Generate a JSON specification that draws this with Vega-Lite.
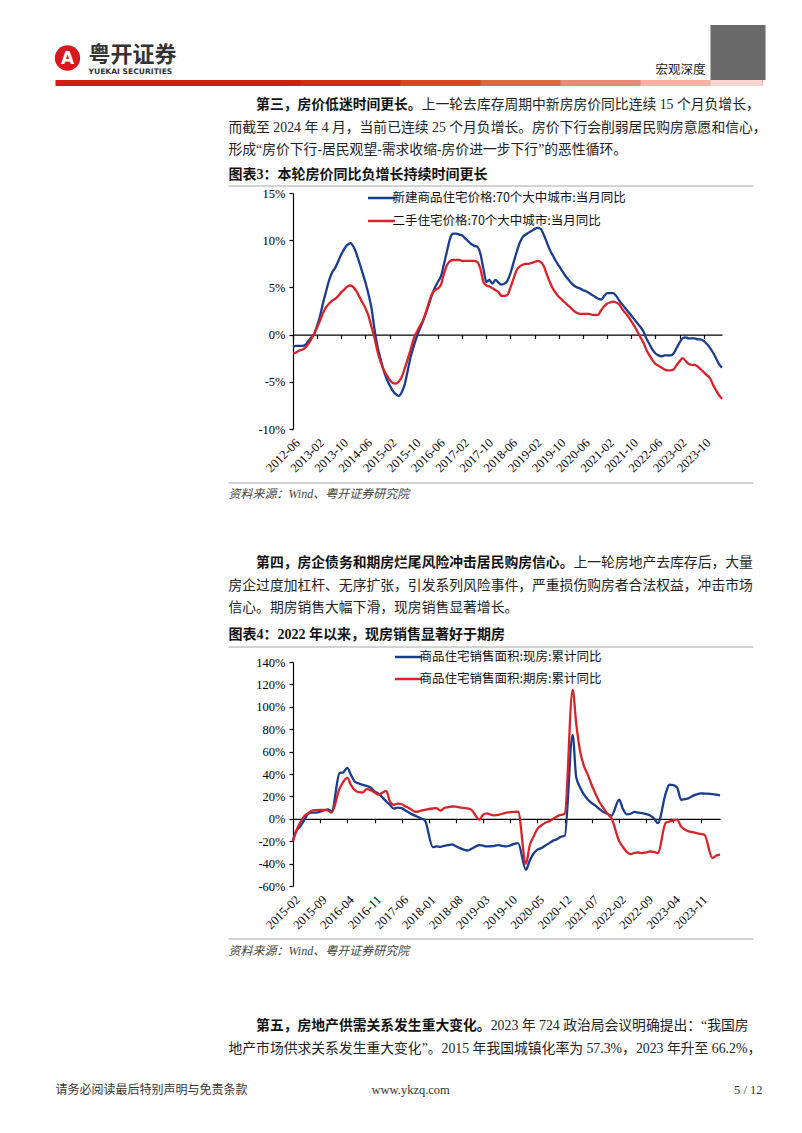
{
"$schema": "https://vega.github.io/schema/vega-lite/v6.json",
"background": "white",
"padding": {"left": 52, "top": 25, "right": 0, "bottom": 0},
"config": {"view": {"stroke": null}, "concat": {"spacing": 0}, "axis": {"grid": false, "labelOverlap": false}},
"resolve": {"scale": {"color": "independent"}, "legend": {"color": "independent"}},
"vconcat": [
{
"width": 472.5, "height": 55,
"layer": [
{"data": {"values": [{"part": "logo"}]}, "mark": {"type": "point", "shape": "circle", "filled": true, "color": "#d7191f", "opacity": 1, "size": 640}, "encoding": {"x": {"value": -225.5}, "y": {"value": 33}}},
{"data": {"values": [{"t": "A"}]}, "mark": {"type": "text", "font": "DejaVu Sans", "fontWeight": "bold", "fontSize": 17, "color": "white", "align": "center", "baseline": "middle"}, "encoding": {"x": {"value": -225.5}, "y": {"value": 34}, "text": {"field": "t"}}},
{"data": {"values": [{"t": "粤开证券"}]}, "mark": {"type": "text", "font": "Noto Sans CJK SC", "fontWeight": "bold", "fontSize": 22, "color": "#333333", "align": "left", "baseline": "middle"}, "encoding": {"x": {"value": -204.5}, "y": {"value": 30}, "text": {"field": "t"}}},
{"data": {"values": [{"t": "YUEKAI SECURITIES"}]}, "mark": {"type": "text", "font": "DejaVu Sans", "fontWeight": "bold", "fontSize": 7.6, "color": "#333333", "align": "left", "baseline": "middle"}, "encoding": {"x": {"value": -204.5}, "y": {"value": 47}, "text": {"field": "t"}}},
{"data": {"values": [{"t": "宏观深度"}]}, "mark": {"type": "text", "font": "Noto Sans CJK SC", "fontSize": 12.5, "color": "#222222", "align": "left", "baseline": "middle"}, "encoding": {"x": {"value": 362.5}, "y": {"value": 45}, "text": {"field": "t"}}},
{"data": {"values": [{"part": "qr"}]}, "mark": {"type": "point", "shape": "square", "filled": true, "color": "#6a6a6a", "opacity": 1, "size": 3025}, "encoding": {"x": {"value": 445}, "y": {"value": 27.5}}}
]
},
{
"width": 460.5, "height": 101,
"data": {"values": [
{"row": 1, "part": "lead", "text": "第三，房价低迷时间更长。"},
{"row": 1, "part": "first", "text": "上一轮去库存周期中新房房价同比连续 15 个月负增长，"},
{"row": 2, "part": "body", "text": "而截至 2024 年 4 月，当前已连续 25 个月负增长。房价下行会削弱居民购房意愿和信心，"},
{"row": 3, "part": "body", "text": "形成“房价下行-居民观望-需求收缩-房价进一步下行”的恶性循环。"},
{"row": 4, "part": "heading", "text": "图表3：本轮房价同比负增长持续时间更长"}
]},
"encoding": {"y": {"field": "row", "type": "quantitative", "scale": {"domain": [0.15, 4.6389], "reverse": true, "nice": false, "zero": false}, "axis": null}},
"layer": [
{"transform": [{"filter": "datum.part === 'body'"}], "mark": {"type": "text", "align": "left", "baseline": "middle", "font": "Liberation Serif, Noto Sans CJK SC", "fontSize": 13.8, "color": "#222222"}, "encoding": {"x": {"value": -64.5}, "text": {"field": "text"}}},
{"transform": [{"filter": "datum.part === 'first'"}], "mark": {"type": "text", "align": "left", "baseline": "middle", "font": "Liberation Serif, Noto Sans CJK SC", "fontSize": 13.8, "color": "#222222", "dx": 193.2}, "encoding": {"x": {"value": -64.5}, "text": {"field": "text"}}},
{"transform": [{"filter": "datum.part === 'lead'"}], "mark": {"type": "text", "align": "left", "baseline": "middle", "font": "Liberation Serif, Noto Sans CJK SC", "fontWeight": "bold", "fontSize": 13.8, "color": "#111111", "dx": 27.6}, "encoding": {"x": {"value": -64.5}, "text": {"field": "text"}}},
{"transform": [{"filter": "datum.part === 'heading'"}], "mark": {"type": "text", "align": "left", "baseline": "middle", "font": "Liberation Serif, Noto Sans CJK SC", "fontWeight": "bold", "fontSize": 14, "color": "#111111", "dy": 2}, "encoding": {"x": {"value": -64.5}, "text": {"field": "text"}}},
{"transform": [{"filter": "datum.part === 'heading'"}], "mark": {"type": "rule", "color": "#c4c4c4", "strokeWidth": 1.5}, "encoding": {"x": {"value": -64.5}, "x2": {"value": "width"}, "y": {"datum": 4.594}}},
{"transform": [{"filter": "datum.part === 'heading'"}], "mark": {"type": "rule", "color": "#d01d19", "strokeWidth": 6}, "encoding": {"x": {"value": -237.5}, "x2": {"value": 469.5}, "y": {"datum": 0.0167}}},
{"transform": [{"filter": "datum.part === 'heading'"}], "mark": {"type": "rule", "color": "#d42a1d", "strokeWidth": 6}, "encoding": {"x": {"value": 7.5}, "x2": {"value": 469.5}, "y": {"datum": 0.0167}}},
{"transform": [{"filter": "datum.part === 'heading'"}], "mark": {"type": "rule", "color": "#da4229", "strokeWidth": 6}, "encoding": {"x": {"value": 107.5}, "x2": {"value": 469.5}, "y": {"datum": 0.0167}}},
{"transform": [{"filter": "datum.part === 'heading'"}], "mark": {"type": "rule", "color": "#e2634b", "strokeWidth": 6}, "encoding": {"x": {"value": 187.5}, "x2": {"value": 469.5}, "y": {"datum": 0.0167}}},
{"transform": [{"filter": "datum.part === 'heading'"}], "mark": {"type": "rule", "color": "#ea8a76", "strokeWidth": 6}, "encoding": {"x": {"value": 267.5}, "x2": {"value": 469.5}, "y": {"datum": 0.0167}}},
{"transform": [{"filter": "datum.part === 'heading'"}], "mark": {"type": "rule", "color": "#f2b2a4", "strokeWidth": 6}, "encoding": {"x": {"value": 347.5}, "x2": {"value": 469.5}, "y": {"datum": 0.0167}}},
{"transform": [{"filter": "datum.part === 'heading'"}], "mark": {"type": "rule", "color": "#f8d6cf", "strokeWidth": 6}, "encoding": {"x": {"value": 417.5}, "x2": {"value": 469.5}, "y": {"datum": 0.0167}}}
]
},
{
"width": 429, "height": 236,
"data": {"values": [
{"date":"2012-06","new":-1.3,"second":-2.0},{"date":"2012-07","new":-1.2,"second":-1.9},{"date":"2012-08","new":-1.2,"second":-1.7},{"date":"2012-09","new":-1.2,"second":-1.6},{"date":"2012-10","new":-1.1,"second":-1.4},{"date":"2012-11","new":-0.7,"second":-1.0},{"date":"2012-12","new":-0.3,"second":-0.5},
{"date":"2013-01","new":0.1,"second":0.1},{"date":"2013-02","new":1.0,"second":0.8},{"date":"2013-03","new":2.0,"second":1.5},{"date":"2013-04","new":3.4,"second":2.3},{"date":"2013-05","new":4.6,"second":2.9},{"date":"2013-06","new":5.8,"second":3.3},{"date":"2013-07","new":6.6,"second":3.6},{"date":"2013-08","new":7.1,"second":3.8},{"date":"2013-09","new":7.8,"second":4.1},{"date":"2013-10","new":8.5,"second":4.5},{"date":"2013-11","new":9.1,"second":4.8},{"date":"2013-12","new":9.5,"second":5.1},
{"date":"2014-01","new":9.7,"second":5.2},{"date":"2014-02","new":9.3,"second":5.0},{"date":"2014-03","new":8.6,"second":4.6},{"date":"2014-04","new":7.6,"second":4.0},{"date":"2014-05","new":6.6,"second":3.4},{"date":"2014-06","new":5.5,"second":2.8},{"date":"2014-07","new":4.3,"second":2.0},{"date":"2014-08","new":2.8,"second":0.8},{"date":"2014-09","new":0.5,"second":-0.4},{"date":"2014-10","new":-1.3,"second":-1.8},{"date":"2014-11","new":-2.6,"second":-2.9},{"date":"2014-12","new":-3.8,"second":-3.7},
{"date":"2015-01","new":-4.7,"second":-4.3},{"date":"2015-02","new":-5.4,"second":-4.8},{"date":"2015-03","new":-5.9,"second":-5.1},{"date":"2015-04","new":-6.3,"second":-5.2},{"date":"2015-05","new":-6.5,"second":-5.0},{"date":"2015-06","new":-6.1,"second":-4.5},{"date":"2015-07","new":-5.3,"second":-3.6},{"date":"2015-08","new":-3.8,"second":-2.6},{"date":"2015-09","new":-2.3,"second":-1.5},{"date":"2015-10","new":-1.2,"second":-0.4},{"date":"2015-11","new":-0.2,"second":0.3},{"date":"2015-12","new":0.6,"second":0.9},
{"date":"2016-01","new":1.4,"second":1.5},{"date":"2016-02","new":2.3,"second":2.4},{"date":"2016-03","new":3.2,"second":3.4},{"date":"2016-04","new":4.2,"second":4.3},{"date":"2016-05","new":5.0,"second":4.7},{"date":"2016-06","new":5.6,"second":4.9},{"date":"2016-07","new":6.2,"second":5.3},{"date":"2016-08","new":7.5,"second":6.5},{"date":"2016-09","new":8.9,"second":7.4},{"date":"2016-10","new":10.2,"second":7.8},{"date":"2016-11","new":10.7,"second":7.9},{"date":"2016-12","new":10.7,"second":7.9},
{"date":"2017-01","new":10.6,"second":7.9},{"date":"2017-02","new":10.5,"second":7.8},{"date":"2017-03","new":10.2,"second":7.8},{"date":"2017-04","new":9.9,"second":7.8},{"date":"2017-05","new":9.6,"second":7.8},{"date":"2017-06","new":9.4,"second":7.8},{"date":"2017-07","new":9.3,"second":7.7},{"date":"2017-08","new":8.6,"second":7.0},{"date":"2017-09","new":7.0,"second":5.6},{"date":"2017-10","new":5.6,"second":5.2},{"date":"2017-11","new":5.8,"second":5.1},{"date":"2017-12","new":5.4,"second":4.9},
{"date":"2018-01","new":5.8,"second":4.7},{"date":"2018-02","new":5.5,"second":4.5},{"date":"2018-03","new":5.3,"second":4.1},{"date":"2018-04","new":5.4,"second":4.1},{"date":"2018-05","new":5.7,"second":4.2},{"date":"2018-06","new":6.5,"second":5.0},{"date":"2018-07","new":7.6,"second":5.9},{"date":"2018-08","new":8.7,"second":6.8},{"date":"2018-09","new":9.7,"second":7.2},{"date":"2018-10","new":10.3,"second":7.4},{"date":"2018-11","new":10.6,"second":7.5},{"date":"2018-12","new":10.8,"second":7.5},
{"date":"2019-01","new":11.0,"second":7.6},{"date":"2019-02","new":11.2,"second":7.7},{"date":"2019-03","new":11.3,"second":7.8},{"date":"2019-04","new":11.2,"second":7.7},{"date":"2019-05","new":10.6,"second":7.3},{"date":"2019-06","new":9.8,"second":6.4},{"date":"2019-07","new":9.0,"second":5.6},{"date":"2019-08","new":8.4,"second":4.9},{"date":"2019-09","new":7.8,"second":4.4},{"date":"2019-10","new":7.3,"second":4.0},{"date":"2019-11","new":6.8,"second":3.7},{"date":"2019-12","new":6.3,"second":3.4},
{"date":"2020-01","new":5.9,"second":3.1},{"date":"2020-02","new":5.5,"second":2.8},{"date":"2020-03","new":5.2,"second":2.5},{"date":"2020-04","new":5.0,"second":2.3},{"date":"2020-05","new":4.9,"second":2.2},{"date":"2020-06","new":4.7,"second":2.2},{"date":"2020-07","new":4.6,"second":2.2},{"date":"2020-08","new":4.4,"second":2.2},{"date":"2020-09","new":4.2,"second":2.1},{"date":"2020-10","new":4.0,"second":2.1},{"date":"2020-11","new":3.8,"second":2.1},{"date":"2020-12","new":3.7,"second":2.6},
{"date":"2021-01","new":4.1,"second":3.0},{"date":"2021-02","new":4.4,"second":3.3},{"date":"2021-03","new":4.4,"second":3.4},{"date":"2021-04","new":4.4,"second":3.5},{"date":"2021-05","new":4.1,"second":3.4},{"date":"2021-06","new":3.6,"second":3.2},{"date":"2021-07","new":3.2,"second":2.7},{"date":"2021-08","new":2.8,"second":2.3},{"date":"2021-09","new":2.4,"second":1.9},{"date":"2021-10","new":2.0,"second":1.4},{"date":"2021-11","new":1.6,"second":0.9},{"date":"2021-12","new":1.2,"second":0.3},
{"date":"2022-01","new":0.8,"second":-0.3},{"date":"2022-02","new":0.3,"second":-0.9},{"date":"2022-03","new":-0.4,"second":-1.6},{"date":"2022-04","new":-1.0,"second":-2.2},{"date":"2022-05","new":-1.6,"second":-2.7},{"date":"2022-06","new":-2.0,"second":-3.1},{"date":"2022-07","new":-2.2,"second":-3.3},{"date":"2022-08","new":-2.3,"second":-3.5},{"date":"2022-09","new":-2.2,"second":-3.7},{"date":"2022-10","new":-2.2,"second":-3.8},{"date":"2022-11","new":-2.2,"second":-3.8},{"date":"2022-12","new":-2.0,"second":-3.7},
{"date":"2023-01","new":-1.4,"second":-3.2},{"date":"2023-02","new":-0.8,"second":-2.8},{"date":"2023-03","new":-0.4,"second":-2.5},{"date":"2023-04","new":-0.3,"second":-2.8},{"date":"2023-05","new":-0.4,"second":-3.1},{"date":"2023-06","new":-0.4,"second":-3.2},{"date":"2023-07","new":-0.4,"second":-3.2},{"date":"2023-08","new":-0.5,"second":-3.4},{"date":"2023-09","new":-0.5,"second":-3.7},{"date":"2023-10","new":-0.7,"second":-4.0},{"date":"2023-11","new":-1.0,"second":-4.3},{"date":"2023-12","new":-1.4,"second":-4.6},
{"date":"2024-01","new":-1.9,"second":-5.3},{"date":"2024-02","new":-2.5,"second":-5.9},{"date":"2024-03","new":-3.1,"second":-6.4},{"date":"2024-04","new":-3.5,"second":-6.8}
]},
"layer": [
{"mark": {"type": "line", "strokeWidth": 2.3, "interpolate": "monotone"},
 "encoding": {
  "x": {"field": "date", "type": "temporal", "scale": {"type": "utc", "nice": false},
   "axis": {"orient": "bottom", "title": null, "domain": false, "ticks": false, "grid": false,
    "values": [{"year":2012,"month":6,"utc":true},{"year":2013,"month":2,"utc":true},{"year":2013,"month":10,"utc":true},{"year":2014,"month":6,"utc":true},{"year":2015,"month":2,"utc":true},{"year":2015,"month":10,"utc":true},{"year":2016,"month":6,"utc":true},{"year":2017,"month":2,"utc":true},{"year":2017,"month":10,"utc":true},{"year":2018,"month":6,"utc":true},{"year":2019,"month":2,"utc":true},{"year":2019,"month":10,"utc":true},{"year":2020,"month":6,"utc":true},{"year":2021,"month":2,"utc":true},{"year":2021,"month":10,"utc":true},{"year":2022,"month":6,"utc":true},{"year":2023,"month":2,"utc":true},{"year":2023,"month":10,"utc":true}],
    "labelExpr": "utcFormat(datum.value, '%Y-%m')", "labelAngle": -45, "labelAlign": "right", "labelBaseline": "top", "labelPadding": 7, "labelFont": "Liberation Serif", "labelFontSize": 12.5, "labelColor": "#000000", "labelOverlap": false, "labelFlush": false, "labelBound": false}},
  "y": {"field": "new", "type": "quantitative", "scale": {"domain": [-10, 15], "nice": false, "zero": false},
   "axis": {"title": null, "values": [-10, -5, 0, 5, 10, 15], "labelExpr": "datum.value + '%'", "labelOverlap": false, "labelFont": "Liberation Serif", "labelFontSize": 12.5, "labelColor": "#000000", "domainColor": "#000000", "domainWidth": 1.2, "tickColor": "#000000", "tickWidth": 1.2, "tickSize": 4, "labelPadding": 4, "grid": false}},
  "color": {"datum": "新建商品住宅价格:70个大中城市:当月同比", "type": "nominal",
   "scale": {"domain": ["新建商品住宅价格:70个大中城市:当月同比", "二手住宅价格:70个大中城市:当月同比"], "range": ["#1a3c8c", "#d8232a"]},
   "legend": {"orient": "none", "legendX": 80.5, "legendY": -3, "title": null, "direction": "vertical", "symbolType": "M-2,0H2", "symbolSize": 182, "symbolStrokeWidth": 2.5, "labelFont": "Noto Sans CJK SC", "labelFontSize": 12.5, "labelColor": "#111111", "labelOffset": 3, "rowPadding": 8, "padding": 0, "labelLimit": 500}}
 }},
{"mark": {"type": "line", "strokeWidth": 2.3, "interpolate": "monotone"},
 "encoding": {
  "x": {"field": "date", "type": "temporal",
   "axis": {"orient": "top", "offset": -141.6, "title": null, "labels": false, "grid": false, "tickSize": -4, "tickColor": "#000000", "tickWidth": 1.2, "domainColor": "#000000", "domainWidth": 1.2,
    "values": [{"year":2012,"month":6,"utc":true},{"year":2013,"month":2,"utc":true},{"year":2013,"month":10,"utc":true},{"year":2014,"month":6,"utc":true},{"year":2015,"month":2,"utc":true},{"year":2015,"month":10,"utc":true},{"year":2016,"month":6,"utc":true},{"year":2017,"month":2,"utc":true},{"year":2017,"month":10,"utc":true},{"year":2018,"month":6,"utc":true},{"year":2019,"month":2,"utc":true},{"year":2019,"month":10,"utc":true},{"year":2020,"month":6,"utc":true},{"year":2021,"month":2,"utc":true},{"year":2021,"month":10,"utc":true},{"year":2022,"month":6,"utc":true},{"year":2023,"month":2,"utc":true},{"year":2023,"month":10,"utc":true}]}},
  "y": {"field": "second", "type": "quantitative",
   "axis": {"title": null, "values": [-10, -5, 0, 5, 10, 15], "labelExpr": "datum.value + '%'", "labelOverlap": false, "labelFont": "Liberation Serif", "labelFontSize": 12.5, "labelColor": "#000000", "domainColor": "#000000", "domainWidth": 1.2, "tickColor": "#000000", "tickWidth": 1.2, "tickSize": 4, "labelPadding": 4, "grid": false}},
  "color": {"datum": "二手住宅价格:70个大中城市:当月同比", "type": "nominal"}
 }}
]
},
{
"width": 460.5, "height": 174,
"data": {"values": [
{"row": -2, "part": "source", "text": "资料来源：Wind、粤开证券研究院"},
{"row": 1, "part": "lead", "text": "第四，房企债务和期房烂尾风险冲击居民购房信心。"},
{"row": 1, "part": "first", "text": "上一轮房地产去库存后，大量"},
{"row": 2, "part": "body", "text": "房企过度加杠杆、无序扩张，引发系列风险事件，严重损伤购房者合法权益，冲击市场"},
{"row": 3, "part": "body", "text": "信心。期房销售大幅下滑，现房销售显著增长。"},
{"row": 4, "part": "heading", "text": "图表4：2022 年以来，现房销售显著好于期房"}
]},
"encoding": {"y": {"field": "row", "type": "quantitative", "scale": {"domain": [-2.9111, 4.8222], "reverse": true, "nice": false, "zero": false}, "axis": null}},
"layer": [
{"transform": [{"filter": "datum.part === 'body'"}], "mark": {"type": "text", "align": "left", "baseline": "middle", "font": "Liberation Serif, Noto Sans CJK SC", "fontSize": 13.8, "color": "#222222"}, "encoding": {"x": {"value": -64.5}, "text": {"field": "text"}}},
{"transform": [{"filter": "datum.part === 'first'"}], "mark": {"type": "text", "align": "left", "baseline": "middle", "font": "Liberation Serif, Noto Sans CJK SC", "fontSize": 13.8, "color": "#222222", "dx": 345}, "encoding": {"x": {"value": -64.5}, "text": {"field": "text"}}},
{"transform": [{"filter": "datum.part === 'lead'"}], "mark": {"type": "text", "align": "left", "baseline": "middle", "font": "Liberation Serif, Noto Sans CJK SC", "fontWeight": "bold", "fontSize": 13.8, "color": "#111111", "dx": 27.6}, "encoding": {"x": {"value": -64.5}, "text": {"field": "text"}}},
{"transform": [{"filter": "datum.part === 'heading'"}], "mark": {"type": "text", "align": "left", "baseline": "middle", "font": "Liberation Serif, Noto Sans CJK SC", "fontWeight": "bold", "fontSize": 14, "color": "#111111", "dy": 4.5}, "encoding": {"x": {"value": -64.5}, "text": {"field": "text"}}},
{"transform": [{"filter": "datum.part === 'source'"}], "mark": {"type": "text", "align": "left", "baseline": "middle", "font": "Liberation Serif, Noto Sans CJK SC", "fontStyle": "italic", "fontSize": 12, "color": "#444444", "dy": -1.5}, "encoding": {"x": {"value": -64.5}, "text": {"field": "text"}}},
{"transform": [{"filter": "datum.part === 'source'"}], "mark": {"type": "rule", "color": "#c4c4c4", "strokeWidth": 1.5}, "encoding": {"x": {"value": -64.5}, "x2": {"value": "width"}, "y": {"datum": -2.5556}}},
{"transform": [{"filter": "datum.part === 'heading'"}], "mark": {"type": "rule", "color": "#c4c4c4", "strokeWidth": 1.5}, "encoding": {"x": {"value": -64.5}, "x2": {"value": "width"}, "y": {"datum": 4.733}}}
]
},
{
"width": 427, "height": 224,
"data": {"values": [
{"date":"2015-02","xf":-18.8,"qf":-20.0},{"date":"2015-03","xf":-10.5,"qf":-10.0},{"date":"2015-04","xf":-6.5,"qf":-3.0},{"date":"2015-05","xf":-1.0,"qf":2.5},{"date":"2015-06","xf":4.5,"qf":5.0},{"date":"2015-07","xf":5.5,"qf":7.4},{"date":"2015-08","xf":5.6,"qf":7.8},{"date":"2015-09","xf":6.3,"qf":8.0},{"date":"2015-10","xf":7.4,"qf":8.0},{"date":"2015-11","xf":8.5,"qf":7.4},{"date":"2015-12","xf":6.5,"qf":5.6},
{"date":"2016-02","xf":40.8,"qf":27.0},{"date":"2016-03","xf":41.5,"qf":33.0},{"date":"2016-04","xf":45.5,"qf":36.5},{"date":"2016-05","xf":39.0,"qf":30.0},{"date":"2016-06","xf":33.0,"qf":25.3},{"date":"2016-07","xf":31.5,"qf":23.8},{"date":"2016-08","xf":30.3,"qf":23.5},{"date":"2016-09","xf":29.3,"qf":26.5},{"date":"2016-10","xf":28.0,"qf":25.5},{"date":"2016-11","xf":24.5,"qf":23.5},{"date":"2016-12","xf":22.5,"qf":21.5},
{"date":"2017-02","xf":15.5,"qf":25.0},{"date":"2017-03","xf":12.5,"qf":15.5},{"date":"2017-04","xf":9.0,"qf":12.5},{"date":"2017-05","xf":10.0,"qf":13.5},{"date":"2017-06","xf":9.5,"qf":13.0},{"date":"2017-07","xf":7.5,"qf":11.0},{"date":"2017-08","xf":5.5,"qf":9.5},{"date":"2017-09","xf":3.5,"qf":7.0},{"date":"2017-10","xf":2.0,"qf":6.3},{"date":"2017-11","xf":0.3,"qf":7.2},{"date":"2017-12","xf":-1.5,"qf":8.0},
{"date":"2018-02","xf":-25.3,"qf":9.2},{"date":"2018-03","xf":-24.7,"qf":9.5},{"date":"2018-04","xf":-25.0,"qf":7.4},{"date":"2018-05","xf":-24.1,"qf":9.5},{"date":"2018-06","xf":-23.5,"qf":10.3},{"date":"2018-07","xf":-22.9,"qf":11.0},{"date":"2018-08","xf":-24.5,"qf":10.8},{"date":"2018-09","xf":-26.2,"qf":10.1},{"date":"2018-10","xf":-27.5,"qf":9.7},{"date":"2018-11","xf":-28.3,"qf":9.3},{"date":"2018-12","xf":-26.8,"qf":8.0},
{"date":"2019-02","xf":-23.5,"qf":-0.9},{"date":"2019-03","xf":-24.0,"qf":3.6},{"date":"2019-04","xf":-24.7,"qf":4.8},{"date":"2019-05","xf":-24.5,"qf":3.8},{"date":"2019-06","xf":-24.1,"qf":3.0},{"date":"2019-07","xf":-23.5,"qf":3.6},{"date":"2019-08","xf":-24.2,"qf":4.5},{"date":"2019-09","xf":-24.7,"qf":5.6},{"date":"2019-10","xf":-23.8,"qf":5.9},{"date":"2019-11","xf":-22.3,"qf":6.2},{"date":"2019-12","xf":-21.7,"qf":6.3},
{"date":"2020-02","xf":-45.5,"qf":-40.2},{"date":"2020-03","xf":-37.5,"qf":-24.0},{"date":"2020-04","xf":-31.0,"qf":-15.8},{"date":"2020-05","xf":-27.5,"qf":-9.0},{"date":"2020-06","xf":-26.2,"qf":-6.0},{"date":"2020-07","xf":-24.0,"qf":-3.5},{"date":"2020-08","xf":-21.7,"qf":-2.3},{"date":"2020-09","xf":-19.5,"qf":0.0},{"date":"2020-10","xf":-18.2,"qf":2.1},{"date":"2020-11","xf":-16.0,"qf":3.5},{"date":"2020-12","xf":-15.2,"qf":4.5},
{"date":"2021-02","xf":75.0,"qf":115.2},{"date":"2021-03","xf":37.0,"qf":85.0},{"date":"2021-04","xf":28.0,"qf":60.0},{"date":"2021-05","xf":21.5,"qf":47.0},{"date":"2021-06","xf":17.0,"qf":39.0},{"date":"2021-07","xf":14.0,"qf":30.0},{"date":"2021-08","xf":11.5,"qf":22.0},{"date":"2021-09","xf":8.5,"qf":14.5},{"date":"2021-10","xf":6.0,"qf":9.5},{"date":"2021-11","xf":4.5,"qf":4.5},{"date":"2021-12","xf":2.7,"qf":0.8},
{"date":"2022-02","xf":17.0,"qf":-20.0},{"date":"2022-03","xf":9.0,"qf":-25.0},{"date":"2022-04","xf":4.0,"qf":-29.5},{"date":"2022-05","xf":4.5,"qf":-31.5},{"date":"2022-06","xf":6.2,"qf":-30.5},{"date":"2022-07","xf":5.5,"qf":-30.1},{"date":"2022-08","xf":5.1,"qf":-30.6},{"date":"2022-09","xf":4.2,"qf":-30.0},{"date":"2022-10","xf":3.0,"qf":-29.2},{"date":"2022-11","xf":0.3,"qf":-29.5},{"date":"2022-12","xf":-3.8,"qf":-30.6},
{"date":"2023-02","xf":22.9,"qf":-3.5},{"date":"2023-03","xf":30.4,"qf":-2.5},{"date":"2023-04","xf":30.0,"qf":-1.5},{"date":"2023-05","xf":28.0,"qf":-0.8},{"date":"2023-06","xf":17.0,"qf":-7.0},{"date":"2023-07","xf":17.5,"qf":-9.5},{"date":"2023-08","xf":18.5,"qf":-11.3},{"date":"2023-09","xf":20.5,"qf":-12.0},{"date":"2023-10","xf":21.8,"qf":-12.8},{"date":"2023-11","xf":22.7,"qf":-13.5},{"date":"2023-12","xf":22.5,"qf":-14.3},
{"date":"2024-02","xf":22.0,"qf":-35.0},{"date":"2024-03","xf":21.5,"qf":-33.0},{"date":"2024-04","xf":20.8,"qf":-32.0}
]},
"layer": [
{"mark": {"type": "line", "strokeWidth": 2.3, "interpolate": "monotone"},
 "encoding": {
  "x": {"field": "date", "type": "temporal", "scale": {"type": "utc", "nice": false},
   "axis": {"orient": "bottom", "title": null, "domain": false, "ticks": false, "grid": false,
    "values": [{"year":2015,"month":2,"utc":true},{"year":2015,"month":9,"utc":true},{"year":2016,"month":4,"utc":true},{"year":2016,"month":11,"utc":true},{"year":2017,"month":6,"utc":true},{"year":2018,"month":1,"utc":true},{"year":2018,"month":8,"utc":true},{"year":2019,"month":3,"utc":true},{"year":2019,"month":10,"utc":true},{"year":2020,"month":5,"utc":true},{"year":2020,"month":12,"utc":true},{"year":2021,"month":7,"utc":true},{"year":2022,"month":2,"utc":true},{"year":2022,"month":9,"utc":true},{"year":2023,"month":4,"utc":true},{"year":2023,"month":11,"utc":true}],
    "labelExpr": "utcFormat(datum.value, '%Y-%m')", "labelAngle": -45, "labelAlign": "right", "labelBaseline": "top", "labelPadding": 7, "labelFont": "Liberation Serif", "labelFontSize": 12.5, "labelColor": "#000000", "labelOverlap": false, "labelFlush": false, "labelBound": false}},
  "y": {"field": "xf", "type": "quantitative", "scale": {"domain": [-60, 140], "nice": false, "zero": false},
   "axis": {"title": null, "values": [-60, -40, -20, 0, 20, 40, 60, 80, 100, 120, 140], "labelExpr": "datum.value + '%'", "labelOverlap": false, "labelFont": "Liberation Serif", "labelFontSize": 12.5, "labelColor": "#000000", "domainColor": "#000000", "domainWidth": 1.2, "tickColor": "#000000", "tickWidth": 1.2, "tickSize": 4, "labelPadding": 4, "grid": false}},
  "color": {"datum": "商品住宅销售面积:现房:累计同比", "type": "nominal",
   "scale": {"domain": ["商品住宅销售面积:现房:累计同比", "商品住宅销售面积:期房:累计同比"], "range": ["#1a3c8c", "#d8232a"]},
   "legend": {"orient": "none", "legendX": 107.5, "legendY": -13, "title": null, "direction": "vertical", "symbolType": "M-2,0H2", "symbolSize": 182, "symbolStrokeWidth": 2.5, "labelFont": "Noto Sans CJK SC", "labelFontSize": 12.5, "labelColor": "#111111", "labelOffset": 3, "rowPadding": 7, "padding": 0, "labelLimit": 500}}
 }},
{"mark": {"type": "line", "strokeWidth": 2.3, "interpolate": "monotone"},
 "encoding": {
  "x": {"field": "date", "type": "temporal",
   "axis": {"orient": "top", "offset": -156.8, "title": null, "labels": false, "grid": false, "tickSize": -4, "tickColor": "#000000", "tickWidth": 1.2, "domainColor": "#000000", "domainWidth": 1.2,
    "values": [{"year":2015,"month":2,"utc":true},{"year":2015,"month":9,"utc":true},{"year":2016,"month":4,"utc":true},{"year":2016,"month":11,"utc":true},{"year":2017,"month":6,"utc":true},{"year":2018,"month":1,"utc":true},{"year":2018,"month":8,"utc":true},{"year":2019,"month":3,"utc":true},{"year":2019,"month":10,"utc":true},{"year":2020,"month":5,"utc":true},{"year":2020,"month":12,"utc":true},{"year":2021,"month":7,"utc":true},{"year":2022,"month":2,"utc":true},{"year":2022,"month":9,"utc":true},{"year":2023,"month":4,"utc":true},{"year":2023,"month":11,"utc":true}]}},
  "y": {"field": "qf", "type": "quantitative",
   "axis": {"title": null, "values": [-60, -40, -20, 0, 20, 40, 60, 80, 100, 120, 140], "labelExpr": "datum.value + '%'", "labelOverlap": false, "labelFont": "Liberation Serif", "labelFontSize": 12.5, "labelColor": "#000000", "domainColor": "#000000", "domainWidth": 1.2, "tickColor": "#000000", "tickWidth": 1.2, "tickSize": 4, "labelPadding": 4, "grid": false}},
  "color": {"datum": "商品住宅销售面积:期房:累计同比", "type": "nominal"}
 }}
]
},
{
"width": 460.5, "height": 144.5,
"data": {"values": [
{"row": -2, "part": "source", "text": "资料来源：Wind、粤开证券研究院"},
{"row": 1, "part": "lead", "text": "第五，房地产供需关系发生重大变化。"},
{"row": 1, "part": "first", "text": "2023 年 724 政治局会议明确提出：“我国房"},
{"row": 2, "part": "body", "text": "地产市场供求关系发生重大变化”。2015 年我国城镇化率为 57.3%，2023 年升至 66.2%，"}
]},
"encoding": {"y": {"field": "row", "type": "quantitative", "scale": {"domain": [-3.1778, 3.2444], "reverse": true, "nice": false, "zero": false}, "axis": null}},
"layer": [
{"transform": [{"filter": "datum.part === 'body'"}], "mark": {"type": "text", "align": "left", "baseline": "middle", "font": "Liberation Serif, Noto Sans CJK SC", "fontSize": 13.8, "color": "#222222"}, "encoding": {"x": {"value": -64.5}, "text": {"field": "text"}}},
{"transform": [{"filter": "datum.part === 'first'"}], "mark": {"type": "text", "align": "left", "baseline": "middle", "font": "Liberation Serif, Noto Sans CJK SC", "fontSize": 13.8, "color": "#222222", "dx": 262.2}, "encoding": {"x": {"value": -64.5}, "text": {"field": "text"}}},
{"transform": [{"filter": "datum.part === 'lead'"}], "mark": {"type": "text", "align": "left", "baseline": "middle", "font": "Liberation Serif, Noto Sans CJK SC", "fontWeight": "bold", "fontSize": 13.8, "color": "#111111", "dx": 27.6}, "encoding": {"x": {"value": -64.5}, "text": {"field": "text"}}},
{"transform": [{"filter": "datum.part === 'source'"}], "mark": {"type": "text", "align": "left", "baseline": "middle", "font": "Liberation Serif, Noto Sans CJK SC", "fontStyle": "italic", "fontSize": 12, "color": "#444444", "dy": -7.5}, "encoding": {"x": {"value": -64.5}, "text": {"field": "text"}}},
{"transform": [{"filter": "datum.part === 'source'"}], "mark": {"type": "rule", "color": "#c4c4c4", "strokeWidth": 1.5}, "encoding": {"x": {"value": -64.5}, "x2": {"value": "width"}, "y": {"datum": -2.8667}}}
]
},
{
"width": 472.5, "height": 25,
"layer": [
{"data": {"values": [{"t": "请务必阅读最后特别声明与免责条款"}]}, "mark": {"type": "text", "font": "Noto Sans CJK SC", "fontSize": 12, "color": "#333333", "align": "left", "baseline": "middle"}, "encoding": {"x": {"value": -237.5}, "y": {"value": 12.5}, "text": {"field": "t"}}},
{"data": {"values": [{"t": "www.ykzq.com"}]}, "mark": {"type": "text", "font": "Liberation Serif", "fontSize": 12.5, "color": "#333333", "align": "left", "baseline": "middle"}, "encoding": {"x": {"value": 78.5}, "y": {"value": 12.5}, "text": {"field": "t"}}},
{"data": {"values": [{"t": "5 / 12"}]}, "mark": {"type": "text", "font": "Liberation Serif", "fontSize": 12.5, "color": "#333333", "align": "right", "baseline": "middle"}, "encoding": {"x": {"value": 469.5}, "y": {"value": 12.5}, "text": {"field": "t"}}}
]
}
]
}
